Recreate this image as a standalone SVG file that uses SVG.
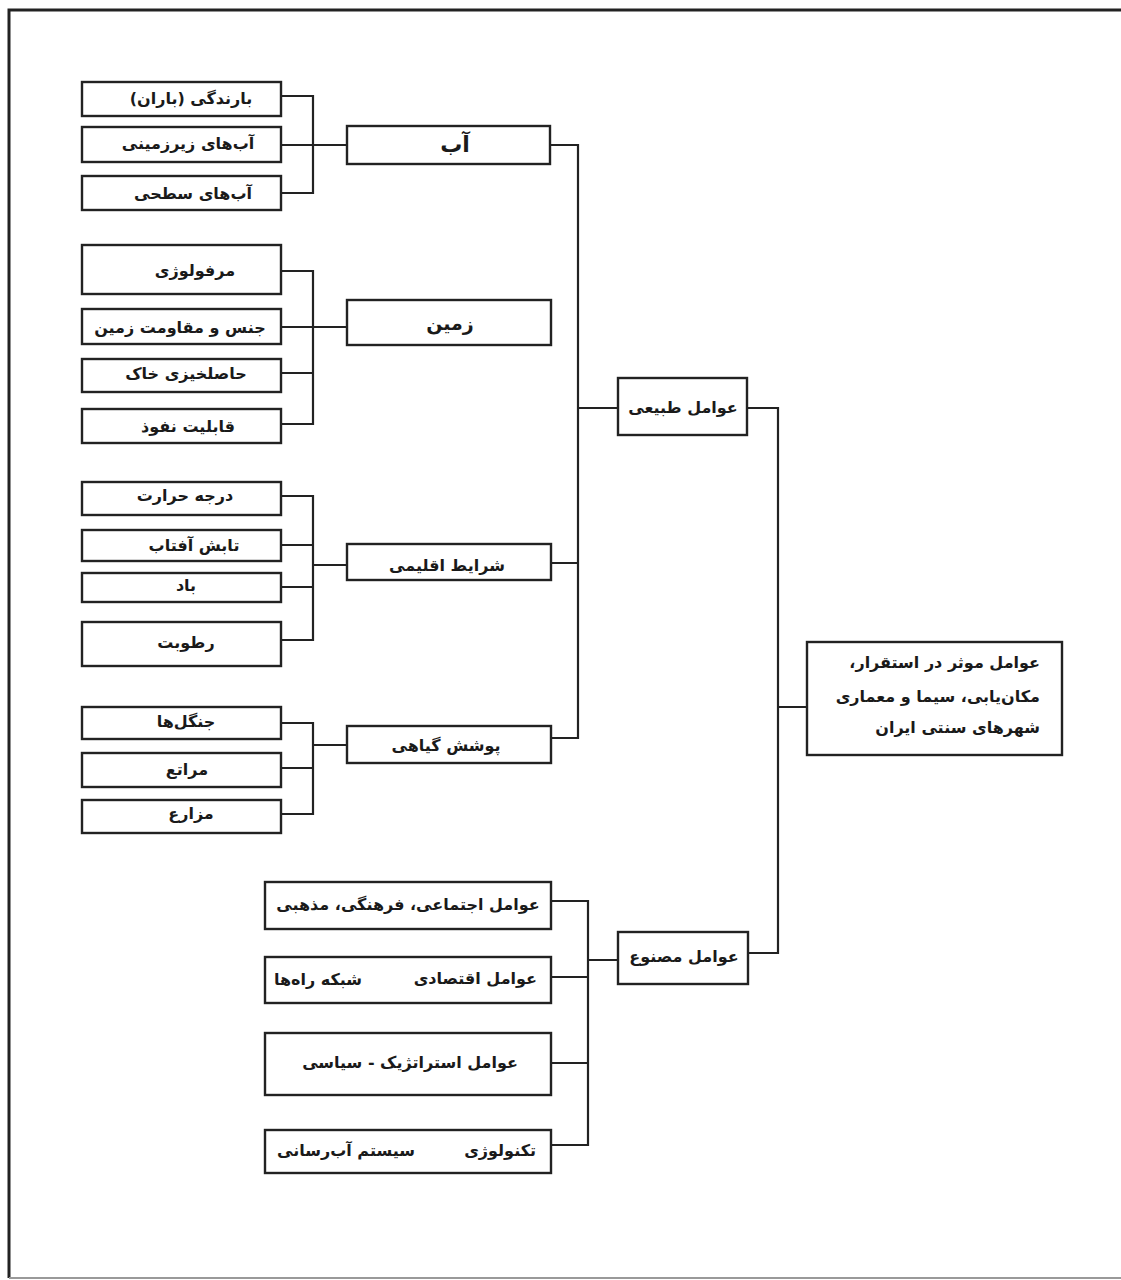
<svg xmlns="http://www.w3.org/2000/svg" width="1121" height="1280" viewBox="0 0 1121 1280">
<style>
.b{fill:#fff;stroke:#222;stroke-width:2.4}
.c{fill:none;stroke:#222;stroke-width:2.2}
text{font-family:"DejaVu Sans",sans-serif;font-weight:bold;font-size:16px;fill:#1a1a1a;direction:rtl;text-anchor:middle}
.r{text-anchor:start}
</style>
<rect width="1121" height="1280" fill="#fff"/>
<path d="M9,1278 V10 H1121" fill="none" stroke="#222" stroke-width="3"/>
<path d="M9,1278 H1121" fill="none" stroke="#999" stroke-width="2"/>
<g id="connectors">
<path class="c" d="M281,96 H313 V193 H281 M281,145 H347 M550,145 H578 V738 H551"/>
<path class="c" d="M281,271 H313 V424 H281 M281,327 H347 M281,373 H313"/>
<path class="c" d="M281,496 H313 V640 H281 M281,545 H313 M281,587 H313 M313,565 H347 M551,563 H578"/>
<path class="c" d="M281,723 H313 V814 H281 M281,768 H313 M313,745 H347"/>
<path class="c" d="M578,408 H618 M747,408 H778 V953 H748 M778,707 H807"/>
<path class="c" d="M551,901 H588 V1145 H551 M551,977 H588 M551,1063 H588 M588,960 H618"/>
</g>
<g id="n-barandegi"><rect class="b" x="82" y="82" width="199" height="34"/><text x="191" y="104">بارندگی (باران)</text></g>
<g id="n-zirzamini"><rect class="b" x="82" y="127" width="199" height="35"/><text x="188" y="149">آب&#x200C;های زیرزمینی</text></g>
<g id="n-sathi"><rect class="b" x="82" y="176" width="199" height="34"/><text x="193" y="199">آب&#x200C;های سطحی</text></g>
<g id="n-ab"><rect class="b" x="347" y="126" width="203" height="38"/><text x="455" y="152" style="font-size:22px;letter-spacing:6px">آب</text></g>
<g id="n-morphology"><rect class="b" x="82" y="245" width="199" height="49"/><text x="195" y="276">مرفولوژی</text></g>
<g id="n-jens"><rect class="b" x="82" y="309" width="199" height="35"/><text x="180" y="333">جنس و مقاومت زمین</text></g>
<g id="n-hasel"><rect class="b" x="82" y="359" width="199" height="33"/><text x="186" y="379">حاصلخیزی خاک</text></g>
<g id="n-nofuz"><rect class="b" x="82" y="409" width="199" height="34"/><text x="188" y="432">قابلیت نفوذ</text></g>
<g id="n-zamin"><rect class="b" x="347" y="300" width="204" height="45"/><text x="450" y="330" style="font-size:19px">زمین</text></g>
<g id="n-daraje"><rect class="b" x="82" y="482" width="199" height="33"/><text x="185" y="501">درجه حرارت</text></g>
<g id="n-tabesh"><rect class="b" x="82" y="530" width="199" height="31"/><text x="194" y="551">تابش آفتاب</text></g>
<g id="n-bad"><rect class="b" x="82" y="573" width="199" height="29"/><text x="186" y="591">باد</text></g>
<g id="n-rotubat"><rect class="b" x="82" y="622" width="199" height="44"/><text x="186" y="648">رطوبت</text></g>
<g id="n-sharayet"><rect class="b" x="347" y="544" width="204" height="36"/><text x="447" y="571">شرایط اقلیمی</text></g>
<g id="n-jangal"><rect class="b" x="82" y="707" width="199" height="32"/><text x="186" y="727">جنگل&#x200C;ها</text></g>
<g id="n-marate"><rect class="b" x="82" y="753" width="199" height="34"/><text x="187" y="775">مراتع</text></g>
<g id="n-mazare"><rect class="b" x="82" y="800" width="199" height="33"/><text x="191" y="819">مزارع</text></g>
<g id="n-pushesh"><rect class="b" x="347" y="726" width="204" height="37"/><text x="446" y="751">پوشش گیاهی</text></g>
<g id="n-tabiei"><rect class="b" x="618" y="378" width="129" height="57"/><text x="683" y="413">عوامل طبیعی</text></g>
<g id="n-main"><rect class="b" x="807" y="642" width="255" height="113"/>
<text class="r" x="1040" y="668">عوامل موثر در استقرار،</text>
<text class="r" x="1040" y="702">مکان&#x200C;یابی، سیما و معماری</text>
<text class="r" x="1040" y="733">شهرهای سنتی ایران</text></g>
<g id="n-masnu"><rect class="b" x="618" y="932" width="130" height="52"/><text x="684" y="962">عوامل مصنوع</text></g>
<g id="n-ejtemaei"><rect class="b" x="265" y="882" width="286" height="47"/><text x="408" y="910">عوامل اجتماعی، فرهنگی، مذهبی</text></g>
<g id="n-eghtesadi"><rect class="b" x="265" y="957" width="286" height="46"/><text class="r" x="537" y="984">عوامل اقتصادی</text><text x="318" y="985">شبکه راه&#x200C;ها</text></g>
<g id="n-strategic"><rect class="b" x="265" y="1033" width="286" height="62"/><text x="410" y="1068">عوامل استراتژیک - سیاسی</text></g>
<g id="n-technology"><rect class="b" x="265" y="1130" width="286" height="43"/><text class="r" x="536" y="1156">تکنولوژی</text><text x="346" y="1156">سیستم آب&#x200C;رسانی</text></g>
</svg>
